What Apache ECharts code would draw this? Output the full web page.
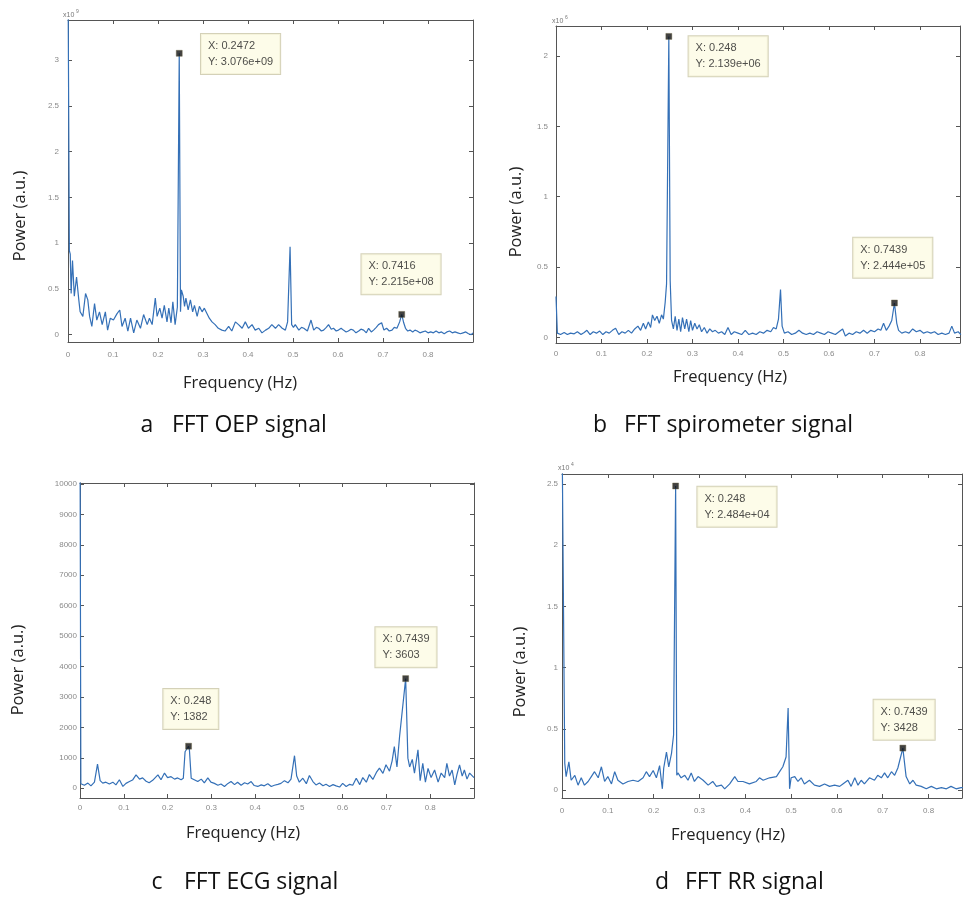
<!DOCTYPE html>
<html><head><meta charset="utf-8">
<script src="https://cdn.jsdelivr.net/npm/echarts@6/dist/echarts.min.js"></script>
<style>html,body{margin:0;padding:0;background:#fff}#chart{width:963px;height:900px}</style>
</head><body><div id="chart"></div>
<script>
// ---------- DATA ----------
// Panel a: FFT OEP signal, power in units of 1e9
const spectrumA = [[0,4.0],[0.003,0.92],[0.005,0.88],[0.007,0.45],[0.010,0.81],[0.014,0.42],[0.019,0.63],[0.024,0.38],[0.027,0.25],[0.033,0.20],[0.039,0.45],[0.044,0.38],[0.048,0.20],[0.053,0.09],[0.059,0.34],[0.064,0.16],[0.070,0.25],[0.076,0.11],[0.083,0.25],[0.088,0.05],[0.094,0.18],[0.101,0.16],[0.109,0.23],[0.115,0.27],[0.120,0.09],[0.127,0.18],[0.133,0.04],[0.139,0.18],[0.146,0.02],[0.153,0.16],[0.161,0.07],[0.168,0.22],[0.176,0.11],[0.181,0.18],[0.187,0.11],[0.194,0.40],[0.198,0.20],[0.204,0.29],[0.209,0.18],[0.214,0.32],[0.220,0.14],[0.224,0.29],[0.229,0.13],[0.233,0.36],[0.238,0.11],[0.243,0.30],[0.2472,3.076],[0.250,0.25],[0.252,0.49],[0.256,0.42],[0.259,0.31],[0.262,0.40],[0.267,0.27],[0.272,0.38],[0.277,0.25],[0.281,0.32],[0.287,0.20],[0.292,0.31],[0.298,0.25],[0.303,0.29],[0.309,0.23],[0.314,0.18],[0.320,0.14],[0.327,0.11],[0.334,0.07],[0.342,0.05],[0.349,0.04],[0.357,0.09],[0.364,0.04],[0.372,0.14],[0.379,0.11],[0.387,0.07],[0.394,0.14],[0.401,0.07],[0.409,0.11],[0.416,0.05],[0.424,0.07],[0.431,0.02],[0.439,0.05],[0.446,0.07],[0.453,0.11],[0.461,0.07],[0.468,0.11],[0.476,0.07],[0.483,0.05],[0.488,0.14],[0.4935,0.96],[0.497,0.11],[0.501,0.08],[0.505,0.11],[0.513,0.05],[0.519,0.08],[0.524,0.07],[0.532,0.04],[0.536,0.06],[0.540,0.16],[0.546,0.05],[0.552,0.08],[0.557,0.07],[0.563,0.04],[0.568,0.05],[0.574,0.08],[0.579,0.11],[0.585,0.06],[0.590,0.07],[0.596,0.04],[0.601,0.05],[0.607,0.07],[0.612,0.05],[0.618,0.03],[0.623,0.04],[0.629,0.06],[0.634,0.05],[0.640,0.02],[0.646,0.04],[0.651,0.06],[0.657,0.05],[0.663,0.02],[0.668,0.07],[0.674,0.03],[0.679,0.05],[0.685,0.08],[0.690,0.11],[0.697,0.13],[0.702,0.05],[0.708,0.07],[0.714,0.04],[0.720,0.05],[0.725,0.08],[0.731,0.07],[0.737,0.14],[0.7416,0.2215],[0.746,0.13],[0.750,0.07],[0.755,0.04],[0.760,0.05],[0.766,0.03],[0.771,0.05],[0.776,0.04],[0.782,0.02],[0.788,0.03],[0.794,0.04],[0.800,0.02],[0.806,0.03],[0.812,0.02],[0.818,0.04],[0.824,0.02],[0.830,0.03],[0.836,0.01],[0.842,0.03],[0.848,0.04],[0.854,0.02],[0.860,0.03],[0.866,0.02],[0.872,0.01],[0.878,0.02],[0.884,0.03],[0.890,0.01],[0.896,0.00],[0.900,0.02]];

// Panel b: FFT spirometer signal, power in units of 1e6
const spectrumB = [[0,0.29],[0.003,0.03],[0.010,0.02],[0.018,0.035],[0.025,0.02],[0.032,0.03],[0.040,0.025],[0.047,0.04],[0.055,0.02],[0.062,0.035],[0.068,0.05],[0.075,0.02],[0.082,0.04],[0.089,0.03],[0.096,0.045],[0.103,0.02],[0.110,0.04],[0.117,0.03],[0.124,0.05],[0.131,0.065],[0.138,0.02],[0.145,0.04],[0.152,0.03],[0.159,0.05],[0.166,0.03],[0.173,0.06],[0.180,0.08],[0.186,0.05],[0.192,0.10],[0.197,0.06],[0.203,0.11],[0.208,0.07],[0.212,0.16],[0.217,0.12],[0.222,0.15],[0.227,0.10],[0.232,0.16],[0.236,0.13],[0.240,0.25],[0.243,0.38],[0.248,2.139],[0.251,0.40],[0.254,0.12],[0.258,0.06],[0.262,0.15],[0.266,0.05],[0.270,0.13],[0.274,0.04],[0.278,0.14],[0.283,0.06],[0.287,0.13],[0.292,0.04],[0.296,0.12],[0.300,0.05],[0.305,0.10],[0.310,0.06],[0.315,0.09],[0.320,0.04],[0.326,0.07],[0.332,0.03],[0.338,0.06],[0.344,0.04],[0.350,0.05],[0.357,0.03],[0.364,0.04],[0.371,0.02],[0.378,0.07],[0.385,0.02],[0.392,0.04],[0.400,0.03],[0.408,0.02],[0.416,0.05],[0.424,0.02],[0.432,0.03],[0.440,0.02],[0.448,0.04],[0.456,0.03],[0.464,0.05],[0.472,0.04],[0.478,0.07],[0.484,0.06],[0.489,0.13],[0.4935,0.34],[0.497,0.08],[0.502,0.03],[0.510,0.04],[0.518,0.02],[0.526,0.03],[0.534,0.05],[0.542,0.03],[0.550,0.02],[0.558,0.03],[0.566,0.02],[0.574,0.04],[0.582,0.03],[0.590,0.02],[0.598,0.04],[0.606,0.03],[0.614,0.02],[0.622,0.04],[0.630,0.06],[0.636,0.01],[0.644,0.03],[0.652,0.02],[0.660,0.04],[0.668,0.03],[0.676,0.05],[0.684,0.03],[0.692,0.05],[0.700,0.04],[0.708,0.06],[0.714,0.05],[0.720,0.10],[0.726,0.05],[0.732,0.08],[0.738,0.12],[0.7439,0.2444],[0.749,0.10],[0.753,0.05],[0.760,0.03],[0.768,0.04],[0.776,0.03],[0.784,0.06],[0.792,0.04],[0.800,0.05],[0.808,0.03],[0.816,0.04],[0.824,0.03],[0.832,0.04],[0.840,0.02],[0.848,0.03],[0.856,0.02],[0.864,0.03],[0.870,0.08],[0.876,0.03],[0.884,0.04],[0.890,0.02]];

// Panel c: FFT ECG signal, power in raw units
const spectrumC = [[0,12000],[0.002,150],[0.010,100],[0.018,170],[0.025,80],[0.033,200],[0.040,790],[0.046,250],[0.052,170],[0.059,200],[0.067,140],[0.075,200],[0.082,110],[0.090,280],[0.098,60],[0.105,160],[0.113,220],[0.120,270],[0.128,440],[0.136,300],[0.143,340],[0.151,230],[0.158,180],[0.166,260],[0.178,440],[0.185,280],[0.193,500],[0.200,350],[0.208,380],[0.216,300],[0.223,340],[0.231,280],[0.236,330],[0.240,1200],[0.248,1382],[0.250,1250],[0.254,330],[0.261,280],[0.269,220],[0.277,300],[0.284,180],[0.292,340],[0.299,200],[0.307,160],[0.315,100],[0.322,140],[0.330,60],[0.338,160],[0.345,220],[0.353,120],[0.360,200],[0.368,100],[0.376,180],[0.383,140],[0.391,220],[0.398,90],[0.406,60],[0.414,110],[0.421,80],[0.429,150],[0.437,60],[0.444,100],[0.452,130],[0.459,160],[0.467,250],[0.475,180],[0.482,300],[0.490,1070],[0.495,400],[0.501,200],[0.509,330],[0.517,150],[0.524,420],[0.532,220],[0.539,110],[0.547,170],[0.555,80],[0.562,130],[0.570,60],[0.578,120],[0.585,80],[0.593,40],[0.600,160],[0.608,60],[0.616,130],[0.623,100],[0.631,330],[0.639,120],[0.646,350],[0.654,200],[0.661,450],[0.669,290],[0.677,520],[0.684,660],[0.692,490],[0.699,770],[0.707,560],[0.713,900],[0.718,1370],[0.724,700],[0.730,1700],[0.7439,3603],[0.749,990],[0.753,700],[0.759,950],[0.764,500],[0.772,1260],[0.777,250],[0.783,820],[0.789,200],[0.795,650],[0.802,350],[0.810,600],[0.818,200],[0.825,500],[0.833,350],[0.838,820],[0.844,400],[0.850,600],[0.856,110],[0.861,450],[0.867,770],[0.873,400],[0.878,600],[0.884,300],[0.890,500],[0.900,350]];

// Panel d: FFT RR signal, power in units of 1e4
const spectrumD = [[0,3.0],[0.006,0.22],[0.009,0.11],[0.015,0.23],[0.020,0.08],[0.028,0.12],[0.035,0.04],[0.042,0.10],[0.049,0.04],[0.057,0.07],[0.064,0.11],[0.071,0.15],[0.079,0.10],[0.086,0.19],[0.093,0.07],[0.100,0.11],[0.108,0.05],[0.115,0.15],[0.122,0.08],[0.133,0.05],[0.144,0.07],[0.155,0.08],[0.166,0.07],[0.177,0.10],[0.184,0.15],[0.191,0.11],[0.199,0.16],[0.206,0.10],[0.213,0.20],[0.219,0.01],[0.222,0.18],[0.228,0.31],[0.233,0.19],[0.239,0.30],[0.2435,0.45],[0.248,2.484],[0.2505,0.12],[0.253,0.14],[0.260,0.10],[0.268,0.12],[0.275,0.08],[0.282,0.14],[0.289,0.07],[0.297,0.11],[0.308,0.08],[0.319,0.04],[0.329,0.07],[0.337,0.03],[0.348,0.04],[0.355,0.01],[0.366,0.05],[0.377,0.11],[0.384,0.07],[0.395,0.07],[0.409,0.05],[0.424,0.07],[0.431,0.10],[0.439,0.08],[0.453,0.10],[0.468,0.11],[0.475,0.15],[0.482,0.19],[0.489,0.27],[0.4935,0.67],[0.4967,0.01],[0.500,0.10],[0.508,0.11],[0.515,0.07],[0.522,0.10],[0.529,0.05],[0.540,0.08],[0.551,0.04],[0.562,0.03],[0.573,0.05],[0.584,0.03],[0.595,0.04],[0.606,0.03],[0.613,0.05],[0.624,0.08],[0.631,0.03],[0.639,0.10],[0.646,0.04],[0.653,0.08],[0.660,0.05],[0.671,0.10],[0.682,0.08],[0.689,0.12],[0.697,0.10],[0.704,0.14],[0.711,0.10],[0.719,0.15],[0.726,0.12],[0.733,0.18],[0.7439,0.3428],[0.751,0.11],[0.759,0.05],[0.766,0.08],[0.773,0.04],[0.784,0.03],[0.795,0.01],[0.806,0.03],[0.817,0.01],[0.828,0.02],[0.839,0.01],[0.849,0.03],[0.860,0.01],[0.871,0.02],[0.880,0.02]];

// Data-tip points and their texts
const markersA = [[0.2472,3.076],[0.7416,0.2215]];
const tipTextA = [['0.2472','3.076e+09'],['0.7416','2.215e+08']];
const markersB = [[0.248,2.139],[0.7439,0.2444]];
const tipTextB = [['0.248','2.139e+06'],['0.7439','2.444e+05']];
const markersC = [[0.248,1382],[0.7439,3603]];
const tipTextC = [['0.248','1382'],['0.7439','3603']];
const markersD = [[0.248,2.484],[0.7439,0.3428]];
const tipTextD = [['0.248','2.484e+04'],['0.7439','3428']];

// Tick values
const xTicks = [0,0.1,0.2,0.3,0.4,0.5,0.6,0.7,0.8];
const yTicksA = [0,0.5,1,1.5,2,2.5,3];
const yTicksB = [0,0.5,1,1.5,2];
const yTicksC = [0,1000,2000,3000,4000,5000,6000,7000,8000,9000,10000];
const yTicksD = [0,0.5,1,1.5,2,2.5];

// Texts
const panelLetters = ['a','b','c','d'];
const panelTitles = ['FFT OEP signal','FFT spirometer signal','FFT ECG signal','FFT RR signal'];
const exponents = ['9','6',null,'4'];
const xAxisName = 'Frequency (Hz)';
const yAxisName = 'Power (a.u.)';

// ---------- LAYOUT ----------
const panels = [
  {spec:spectrumA, marks:markersA, tips:tipTextA, yTicks:yTicksA,
   left:68, top:20, width:405, height:322, xMax:0.9, yMin:-0.08, yMax:3.44,
   yLabM:9, xLabM:9, tipOff:[[22,-19],[-40,-60]], letter:[147,425], title:[172,425], yName:[20,216], xName:[240,383], exp:[63,15]},
  {spec:spectrumB, marks:markersB, tips:tipTextB, yTicks:yTicksB,
   left:556, top:26, width:404, height:317, xMax:0.888, yMin:-0.04, yMax:2.213,
   yLabM:8, xLabM:7, tipOff:[[20,0],[-41,-65]], letter:[600,425], title:[624,425], yName:[516,212], xName:[730,377], exp:[552,21]},
  {spec:spectrumC, marks:markersC, tips:tipTextC, yTicks:yTicksC,
   left:80, top:483, width:394, height:315, xMax:0.9, yMin:-320, yMax:10030,
   yLabM:3, xLabM:6, tipOff:[[-25,-57],[-30,-51]], letter:[157,882], title:[184,882], yName:[18,670], xName:[243,833], exp:null},
  {spec:spectrumD, marks:markersD, tips:tipTextD, yTicks:yTicksD,
   left:562, top:474, width:400, height:324, xMax:0.873, yMin:-0.065, yMax:2.582,
   yLabM:4, xLabM:9, tipOff:[[22,1],[-29,-48]], letter:[662,882], title:[685,882], yName:[520,672], xName:[728,835], exp:[558,468]}
];

const axisColor = '#555';
const tickLabelStyle = {fontSize:8, color:'#8a8a8a', fontFamily:'Liberation Sans', formatter:(v) => String(v)};
const grids = [], xAxes = [], yAxes = [], series = [], graphics = [];

function txt(x, y, text, font, fill, align, rot) {
  const g = {type:'text', x:x, y:y,
    style:{text:text, font:font, fill:fill, textAlign:align, textVerticalAlign:'middle', align:align, verticalAlign:'middle'}};
  if (rot) g.rotation = rot;
  return g;
}

panels.forEach((p, i) => {
  grids.push({left:p.left, top:p.top, width:p.width, height:p.height, containLabel:false});
  const common = {type:'value', gridIndex:i, splitLine:{show:false},
    axisLine:{show:true, onZero:false, lineStyle:{color:axisColor, width:1}}};
  xAxes.push(Object.assign({}, common, {position:'bottom', min:0, max:p.xMax,
    axisTick:{inside:true, length:4, customValues:xTicks, lineStyle:{color:axisColor}},
    axisLabel:Object.assign({customValues:xTicks, margin:p.xLabM}, tickLabelStyle)}));
  xAxes.push(Object.assign({}, common, {position:'top', min:0, max:p.xMax,
    axisTick:{inside:true, length:4, customValues:xTicks, lineStyle:{color:axisColor}},
    axisLabel:{show:false}}));
  yAxes.push(Object.assign({}, common, {position:'left', min:p.yMin, max:p.yMax,
    axisTick:{inside:true, length:4, customValues:p.yTicks, lineStyle:{color:axisColor}},
    axisLabel:Object.assign({customValues:p.yTicks, margin:p.yLabM}, tickLabelStyle)}));
  yAxes.push(Object.assign({}, common, {position:'right', min:p.yMin, max:p.yMax,
    axisTick:{inside:true, length:4, customValues:p.yTicks, lineStyle:{color:axisColor}},
    axisLabel:{show:false}}));

  series.push({type:'line', xAxisIndex:2*i, yAxisIndex:2*i, data:p.spec, showSymbol:false,
    clip:true, lineStyle:{width:1.2, color:'#3470b7'}, z:2, animation:false});

  series.push({type:'scatter', xAxisIndex:2*i, yAxisIndex:2*i, symbol:'rect', symbolSize:6,
    itemStyle:{color:'#111', borderColor:'#6b6540', borderWidth:0.5}, z:5, animation:false, clip:false,
    data:p.marks.map((m, k) => ({value:m,
      label:{show:true, position:[p.tipOff[k][0]+3, p.tipOff[k][1]+3], align:'left', verticalAlign:'top',
        formatter:'X: ' + p.tips[k][0] + '\nY: ' + p.tips[k][1],
        backgroundColor:'#fdfbe3', borderColor:'#c9c6a6', borderWidth:1,
        padding:[4,7,4,7], fontSize:11, lineHeight:16, color:'#222', fontFamily:'Liberation Sans'}})),
  });

  graphics.push(txt(p.letter[0], p.letter[1], panelLetters[i], '23px "Open Sans"', '#111', 'center'));
  graphics.push(txt(p.title[0], p.title[1], panelTitles[i], '23px "Open Sans"', '#111', 'left'));
  graphics.push(txt(p.xName[0], p.xName[1], xAxisName, '16.5px "Open Sans"', '#222', 'center'));
  graphics.push(txt(p.yName[0], p.yName[1], yAxisName, '16.5px "Open Sans"', '#222', 'center', Math.PI/2));
  if (p.exp && exponents[i]) {
    graphics.push(txt(p.exp[0], p.exp[1], 'x10', '7px "Liberation Sans"', '#777', 'left'));
    graphics.push(txt(p.exp[0]+13, p.exp[1]-3, exponents[i], '5px "Liberation Sans"', '#777', 'left'));
  }
});

const chart = echarts.init(document.getElementById('chart'), null, {renderer:'canvas'});
chart.setOption({
  backgroundColor:'#fff',
  animation:false,
  grid:grids, xAxis:xAxes, yAxis:yAxes, series:series, graphic:graphics
});
</script>
</body></html>
